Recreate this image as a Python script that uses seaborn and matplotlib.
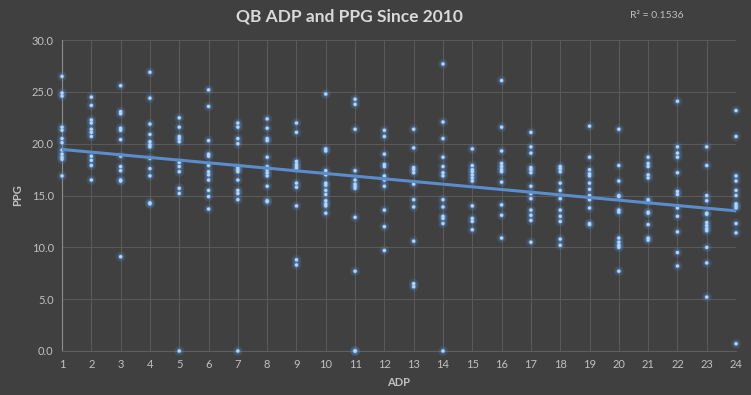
import pandas as pd
import matplotlib.pyplot as plt
import seaborn as sns

# PPG per QB season, grouped by ADP rank (1..24)
adp_ranks = list(range(1, 25))
ppg_by_adp = [
    [26.5, 24.9, 24.6, 21.6, 21.3, 20.5, 20.1, 19.4, 19.0, 18.7, 18.5, 16.9],
    [24.5, 23.7, 22.3, 22.0, 21.4, 21.1, 20.7, 18.8, 18.4, 17.9, 16.5],
    [25.6, 23.1, 22.9, 21.5, 21.3, 20.4, 18.8, 17.8, 17.4, 16.5, 16.4, 9.1],
    [26.9, 24.4, 21.9, 20.9, 20.2, 19.9, 19.7, 18.6, 17.6, 16.9, 14.3, 14.2],
    [22.5, 21.6, 20.7, 20.5, 20.2, 18.2, 17.8, 17.3, 15.7, 15.2, 0.0],
    [25.2, 23.6, 20.3, 19.0, 18.8, 17.9, 17.3, 17.0, 16.5, 15.5, 14.9, 13.7],
    [22.0, 21.6, 20.5, 20.0, 17.7, 17.5, 17.3, 16.5, 15.5, 15.2, 14.6, 0.0],
    [22.4, 21.5, 20.5, 20.3, 18.7, 17.8, 17.5, 17.2, 16.9, 15.9, 14.5, 14.4],
    [22.0, 21.1, 18.3, 18.0, 17.8, 17.6, 16.2, 15.8, 14.0, 8.8, 8.3],
    [24.8, 19.5, 19.3, 17.4, 17.0, 16.2, 16.0, 15.5, 15.1, 14.5, 14.2, 14.0, 13.3],
    [24.3, 23.8, 21.4, 17.4, 16.5, 16.1, 15.9, 15.7, 12.9, 7.7, 0.0, 0.0],
    [21.3, 20.7, 19.0, 18.0, 17.8, 16.9, 16.5, 15.9, 13.6, 12.0, 9.7],
    [21.4, 19.6, 17.7, 17.5, 17.2, 16.1, 14.6, 13.9, 10.6, 6.5, 6.2],
    [27.7, 22.1, 20.5, 18.7, 17.8, 17.2, 16.9, 14.6, 13.9, 13.0, 12.8, 12.3, 0.0],
    [19.5, 17.9, 17.5, 17.3, 17.0, 16.7, 16.4, 14.0, 12.8, 12.5, 11.7],
    [26.1, 21.6, 19.3, 18.1, 17.8, 17.5, 17.3, 16.3, 14.1, 13.1, 10.9],
    [21.1, 19.7, 19.1, 17.7, 17.5, 17.2, 15.9, 15.2, 14.7, 13.6, 13.1, 12.6, 10.5],
    [17.8, 17.6, 17.3, 16.2, 15.5, 14.7, 13.6, 13.0, 12.5, 10.8, 10.2],
    [21.7, 18.7, 17.5, 17.1, 16.9, 16.2, 15.6, 15.0, 14.6, 13.8, 12.3, 12.2],
    [21.4, 17.9, 16.4, 15.0, 14.9, 13.6, 13.4, 10.9, 10.5, 10.2, 10.0, 7.7],
    [18.7, 18.1, 17.8, 17.0, 16.7, 14.6, 14.4, 13.4, 13.3, 12.2, 10.9, 10.7],
    [24.1, 19.7, 19.1, 18.7, 17.2, 15.4, 15.1, 13.8, 13.0, 11.5, 9.5, 8.2],
    [19.7, 17.9, 15.0, 14.5, 13.3, 13.2, 12.4, 12.1, 11.8, 11.6, 10.0, 8.5, 5.2],
    [23.2, 20.7, 16.9, 16.4, 15.5, 15.0, 14.2, 14.0, 13.8, 12.3, 11.4, 0.7],
]
y_ticks = [0, 5, 10, 15, 20, 25, 30]
r2_label = "R² = 0.1536"

rows = []
for adp, vals in zip(adp_ranks, ppg_by_adp):
    for v in vals:
        rows.append({"ADP": adp, "PPG": v})
df = pd.DataFrame(rows)

bg = "#404040"
sns.set_theme(style="dark")
plt.rcParams["font.family"] = ["Lato", "DejaVu Sans"]

fig = plt.figure(figsize=(7.51, 3.95), dpi=100, facecolor=bg)
ax = fig.add_axes([0.0826, 0.1114, 0.8975, 0.787])
ax.set_facecolor(bg)

# soft glow under each point, then the dot itself
sns.scatterplot(data=df, x="ADP", y="PPG", ax=ax, s=50, color="#4f86c6",
                alpha=0.22, edgecolor="none", legend=False, zorder=3, clip_on=False)
sns.scatterplot(data=df, x="ADP", y="PPG", ax=ax, s=16, color="#5b93d6",
                alpha=0.45, edgecolor="none", legend=False, zorder=3, clip_on=False)
sns.scatterplot(data=df, x="ADP", y="PPG", ax=ax, s=6, color="#b8d4f2",
                edgecolor="none", legend=False, zorder=4, clip_on=False)
sns.regplot(data=df, x="ADP", y="PPG", ax=ax, scatter=False, ci=None,
            line_kws={"color": "#5b8dcc", "linewidth": 2.2, "zorder": 5})

ax.set_xlim(1, 24)
ax.set_ylim(0, 30)
ax.set_xticks(adp_ranks)
ax.set_yticks(y_ticks)
ax.set_yticklabels([f"{t:.1f}" for t in y_ticks])
ax.grid(True, color="#595959", linewidth=0.8, zorder=0)
ax.set_axisbelow(True)
for side in ["top", "right"]:
    ax.spines[side].set_visible(False)
ax.spines["left"].set_color("#8c8c8c")
ax.spines["bottom"].set_color("#5f5f5f")
ax.spines["left"].set_linewidth(0.8)
ax.spines["bottom"].set_linewidth(0.8)
ax.tick_params(axis="both", colors="#c0c0c0", labelsize=8, length=0, pad=6)

ax.set_xlabel("ADP", color="#c0c0c0", fontsize=8, fontweight="bold", labelpad=5)
ax.set_ylabel("PPG", color="#c0c0c0", fontsize=8, fontweight="bold", labelpad=6)

fig.text(0.465, 0.958, "QB ADP and PPG Since 2010", ha="center", va="center",
         color="#d9d9d9", fontsize=12.5, fontweight="bold")
fig.text(0.875, 0.96, r2_label, ha="center", va="center", color="#bfbfbf", fontsize=7.5)

fig.savefig("out.png", dpi=100, facecolor=bg)
